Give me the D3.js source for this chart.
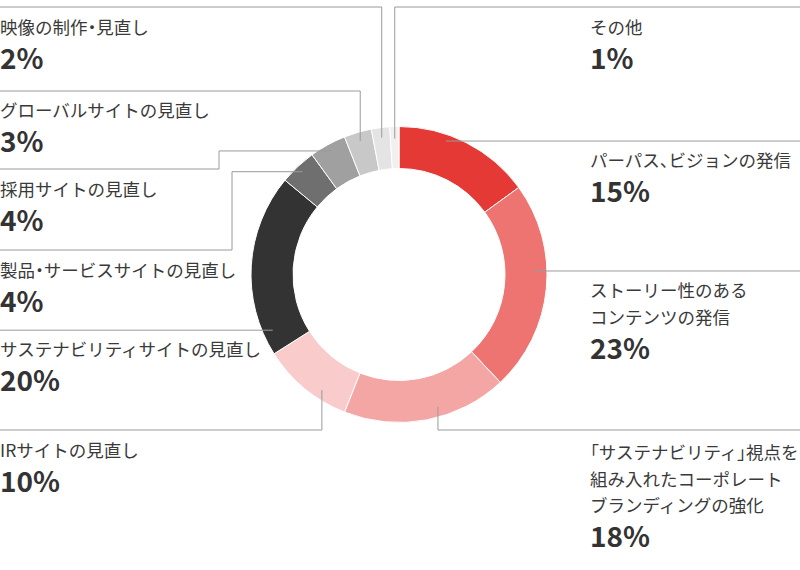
<head>
    <meta charset="utf-8">
    <style> body { margin: 0; background: #fff; } </style>
    <script src="https://cdn.jsdelivr.net/npm/d3@7"></script>
</head>
<body>
<div id="chart"></div>
<script>

    // data
    var categories = [
        "パーパス、ビジョンの発信",
        "ストーリー性のある|コンテンツの発信",
        "「サステナビリティ」視点を|組み入れたコーポレート|ブランディングの強化",
        "IRサイトの見直し",
        "サステナビリティサイトの見直し",
        "製品・サービスサイトの見直し",
        "採用サイトの見直し",
        "グローバルサイトの見直し",
        "映像の制作・見直し",
        "その他"
    ];
    var values = [15, 23, 18, 10, 20, 4, 4, 3, 2, 1];

    var colors = ["#e43935", "#ee7472", "#f4a6a5", "#f9cbca", "#333333",
                  "#6f6f6f", "#a0a0a0", "#c8c8c8", "#e4e4e4", "#f0f0f0"];

    var W = 800, H = 570;
    var cx = 399, cy = 274.5, rOut = 148, rIn = 106;

    // where each leader line leaves the ring and how it travels to its label
    var leaders = [
        {ang: 19.4,  r: 141.5, steps: [["h", W]],                         side: "R", y0: 167},
        {ang: 88.5,  r: 134,   steps: [["h", W]],                         side: "R", y0: 297},
        {ang: 163.6, r: 138,   steps: [["v", 430], ["h", W]],             side: "R", y0: 459},
        {ang: 213.7, r: 139,   steps: [["v", 430], ["h", 0]],             side: "L", y0: 457},
        {ang: 246.2, r: 138,   steps: [["h", 0]],                         side: "L", y0: 356},
        {ang: null,  r: 141,   steps: [["h", 232], ["v", 250], ["h", 0]], side: "L", y0: 277},
        {ang: null,  r: 141,   steps: [["h", 219], ["v", 169], ["h", 0]], side: "L", y0: 196},
        {ang: null,  r: 139,   steps: [["v", 91], ["h", 0]],              side: "L", y0: 117},
        {ang: null,  r: 138,   steps: [["v", 7], ["h", 0]],               side: "L", y0: 34},
        {ang: null,  r: 136,   steps: [["v", 7], ["h", W]],               side: "R", y0: 34}
    ];

    var font = "'Noto Sans CJK JP', 'Noto Sans', sans-serif";
    var punct = /[「」、・]/;

    var svg = d3.select("#chart").append("svg")
        .attr("width", W)
        .attr("height", H);

    var pie = d3.pie().sort(null).value(d => d);
    var arcs = pie(values);

    var arc = d3.arc().innerRadius(rIn).outerRadius(rOut);

    var ring = svg.append("g")
        .attr("transform", "translate(" + cx + "," + cy + ")");

    ring.selectAll("path")
        .data(arcs)
        .enter()
        .append("path")
        .attr("d", arc)
        .attr("fill", (d, i) => colors[i])
        .attr("stroke", "#ffffff")
        .attr("stroke-width", 1);

    // leader lines
    var lines = svg.append("g");

    arcs.forEach(function(a, i) {
        var L = leaders[i];
        var ang = L.ang !== null ? L.ang * Math.PI / 180 : (a.startAngle + a.endAngle) / 2;
        var x = cx + L.r * Math.sin(ang),
            y = cy - L.r * Math.cos(ang);
        var pts = [[x, y]];
        L.steps.forEach(function(s) {
            if (s[0] == "h") { x = s[1]; } else { y = s[1]; }
            pts.push([x, y]);
        });
        lines.append("path")
            .attr("d", d3.line()(pts))
            .attr("fill", "none")
            .attr("stroke", "#9a9a9a")
            .attr("stroke-width", 1);
    });

    // labels
    var labels = svg.append("g");

    function addLine(t, str, x, y) {
        // punctuation is set half-width, as in the original
        var runs = [];
        str.split("").forEach(function(ch) {
            var p = punct.test(ch);
            if (runs.length && runs[runs.length - 1].p == p) {
                runs[runs.length - 1].s += ch;
            } else {
                runs.push({p: p, s: ch});
            }
        });
        runs.forEach(function(r, k) {
            var ts = t.append("tspan").text(r.s);
            if (k == 0) ts.attr("x", x).attr("y", y);
            if (r.p) ts.style("font-feature-settings", "'palt'");
        });
    }

    categories.forEach(function(c, i) {
        var L = leaders[i];
        var tx = L.side == "L" ? 0 : 590;
        var parts = c.split("|");
        var t = labels.append("text")
            .attr("fill", "#3a3a3a")
            .style("font-family", font)
            .style("font-size", "17.5px");
        parts.forEach(function(p, j) {
            addLine(t, p, tx, L.y0 + j * 26.5);
        });
        labels.append("text")
            .attr("x", tx)
            .attr("y", L.y0 + (parts.length - 1) * 26.5 + 35)
            .attr("fill", "#333333")
            .style("font-family", font)
            .style("font-size", "28px")
            .style("font-weight", 700)
            .text(values[i] + "%");
    });

</script>
</body>
